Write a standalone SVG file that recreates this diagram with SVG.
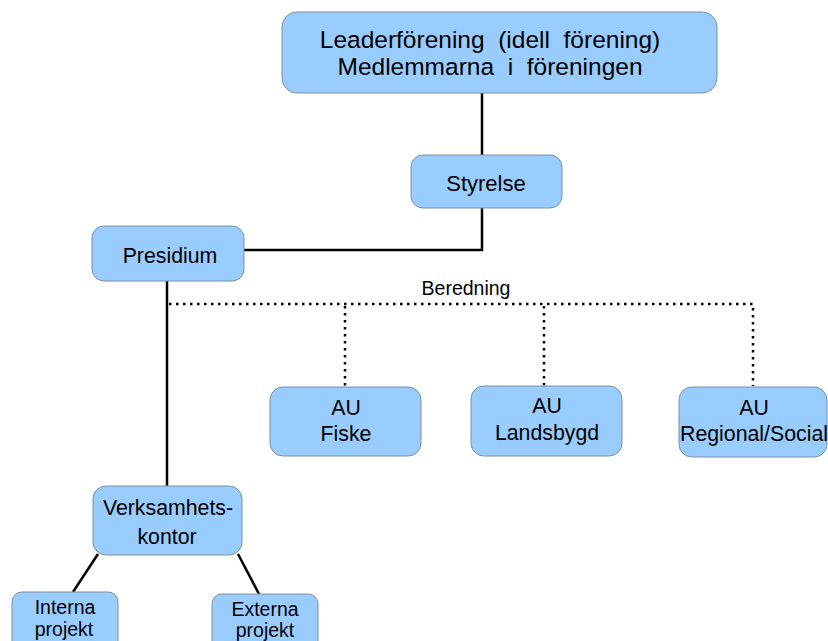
<svg xmlns="http://www.w3.org/2000/svg" width="828" height="641" viewBox="0 0 828 641">
<style>
.box{fill:#99ccff;stroke:#7f8fa0;stroke-width:1}
.t{font-family:"Liberation Sans",Arial,sans-serif;fill:#000;text-anchor:middle;font-size:21.3px}
.solid{fill:none;stroke:#000;stroke-width:2.5}
.dot{fill:none;stroke:#000;stroke-width:2.5;stroke-dasharray:2.5 4.5}
</style>
<rect width="828" height="641" fill="#fff"/>
<g id="connectors">
<path class="solid" d="M482 93 V155"/>
<path class="solid" d="M482 208 V250 H244"/>
<path class="solid" d="M167 281 V486"/>
<path class="solid" d="M98 554 L73 592"/>
<path class="solid" d="M238 554 L259 594"/>
<path class="dot" d="M169 304 H753 V386"/>
<path class="dot" d="M345 306 V386"/>
<path class="dot" d="M544 306 V386"/>
<text class="t" x="466" y="295" style="font-size:19.5px">Beredning</text>
</g>
<g id="leader">
<rect class="box" x="282" y="12" width="435" height="81" rx="15"/>
<text class="t" x="490" y="48" style="font-size:24.5px" xml:space="preserve">Leaderförening  (idell  förening)</text>
<text class="t" x="490" y="75" style="font-size:24.5px" xml:space="preserve">Medlemmarna  i  föreningen</text>
</g>
<g id="styrelse">
<rect class="box" x="411" y="155" width="151" height="53" rx="12"/>
<text class="t" x="486" y="191" style="font-size:22px">Styrelse</text>
</g>
<g id="presidium">
<rect class="box" x="92" y="226" width="152" height="55" rx="12"/>
<text class="t" x="170" y="263">Presidium</text>
</g>
<g id="au-fiske">
<rect class="box" x="270" y="387" width="151" height="69" rx="13"/>
<text class="t" x="346" y="415">AU</text>
<text class="t" x="346" y="441">Fiske</text>
</g>
<g id="au-landsbygd">
<rect class="box" x="471" y="386" width="151" height="70" rx="13"/>
<text class="t" x="547" y="413">AU</text>
<text class="t" x="547" y="440">Landsbygd</text>
</g>
<g id="au-regional">
<rect class="box" x="679" y="387" width="148" height="70" rx="13"/>
<text class="t" x="754" y="415">AU</text>
<text class="t" x="754" y="441">Regional/Social</text>
</g>
<g id="verksamhet">
<rect class="box" x="93" y="486" width="149" height="69" rx="13"/>
<text class="t" x="168" y="515">Verksamhets-</text>
<text class="t" x="167" y="544">kontor</text>
</g>
<g id="interna">
<rect class="box" x="12" y="592" width="106" height="60" rx="10"/>
<text class="t" x="65" y="614" style="font-size:19.5px">Interna</text>
<text class="t" x="64" y="636" style="font-size:19.5px">projekt</text>
</g>
<g id="externa">
<rect class="box" x="212" y="594" width="106" height="60" rx="10"/>
<text class="t" x="265" y="616" style="font-size:19.5px">Externa</text>
<text class="t" x="265" y="637" style="font-size:19.5px">projekt</text>
</g>
</svg>
